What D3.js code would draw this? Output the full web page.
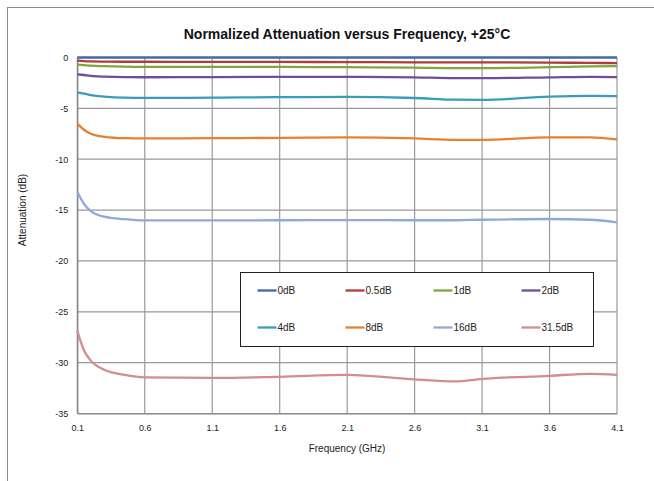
<!DOCTYPE html>
<html lang="en">
<head>
<meta charset="UTF-8">
<title>Normalized Attenuation versus Frequency</title>
<script src="https://cdn.jsdelivr.net/npm/d3@7"></script>
<style>
  body { margin: 0; background: #fff; }
  svg { display: block; font-family: "Liberation Sans", Arial, sans-serif; }
</style>
</head>
<body>
<script>
// data (GHz / dB)
const freq = [0.1, 0.15, 0.2, 0.3, 0.45, 0.6, 1.1, 1.6, 2.1, 2.6, 2.9, 3.1, 3.6, 3.9, 4.1]
const seriesNames = ["0dB", "0.5dB", "1dB", "2dB", "4dB", "8dB", "16dB", "31.5dB"]
const att0 = [0, 0, 0, 0, 0, 0, 0, 0, 0, 0, 0, 0, 0, 0, 0]
const att05 = [-0.3, -0.35, -0.38, -0.4, -0.42, -0.42, -0.43, -0.44, -0.45, -0.47, -0.48, -0.48, -0.5, -0.53, -0.55]
const att1 = [-0.7, -0.75, -0.8, -0.85, -0.9, -0.92, -0.93, -0.93, -0.95, -1.0, -1.05, -1.05, -0.95, -0.88, -0.85]
const att2 = [-1.65, -1.72, -1.8, -1.88, -1.93, -1.94, -1.93, -1.9, -1.9, -1.95, -2.03, -2.03, -1.95, -1.9, -1.92]
const att4 = [-3.45, -3.55, -3.7, -3.85, -3.95, -3.97, -3.95, -3.9, -3.88, -3.98, -4.15, -4.17, -3.85, -3.78, -3.8]
const att8 = [-6.5, -7.1, -7.5, -7.8, -7.93, -7.95, -7.93, -7.9, -7.85, -7.95, -8.1, -8.1, -7.85, -7.85, -8.05]
const att16 = [-13.2, -14.4, -15.1, -15.65, -15.9, -16.02, -16.02, -16.0, -15.98, -16.0, -16.0, -15.95, -15.88, -15.95, -16.2]
const att315 = [-26.9, -28.8, -29.8, -30.7, -31.2, -31.45, -31.5, -31.4, -31.2, -31.65, -31.85, -31.6, -31.3, -31.1, -31.2]
const xTicks = [0.1, 0.6, 1.1, 1.6, 2.1, 2.6, 3.1, 3.6, 4.1]
const yTicks = [0, -5, -10, -15, -20, -25, -30, -35]

const allSeries = [att0, att05, att1, att2, att4, att8, att16, att315]
const colours = ["#3f6aaa", "#b23b3b", "#7ea83e", "#6d4f97", "#3a9cbb", "#e8812f", "#8faad8", "#d58c8c"]

const width = 654
const height = 481
const svg = d3.select("body").append("svg").attr("width", width).attr("height", height)

// outer chart frame (runs off the right / bottom like the source)
svg.append("rect").attr("x", 7.5).attr("y", 7.5).attr("width", 700).attr("height", 500)
    .attr("fill", "none").attr("stroke", "#8c8c8c").attr("stroke-width", 1)

const x = d3.scaleLinear().domain([0.1, 4.1]).range([77.3, 617])
const y = d3.scaleLinear().domain([-35, 0]).range([413.5, 57.5])

// grid
const grid = svg.append("g")
grid.selectAll("line.v").data(xTicks).enter().append("line")
    .attr("x1", d => x(d)).attr("x2", d => x(d)).attr("y1", y(0)).attr("y2", y(-35))
    .attr("stroke", "#9a9a9a").attr("stroke-width", 1.2)
grid.selectAll("line.h").data(yTicks).enter().append("line")
    .attr("x1", x(0.1)).attr("x2", x(4.1)).attr("y1", d => y(d)).attr("y2", d => y(d))
    .attr("stroke", "#9a9a9a").attr("stroke-width", 1.2)

// axes (plain hyphen for negatives, like the source)
const yAxis = d3.axisLeft(y).tickValues(yTicks).tickSize(0).tickPadding(9).tickFormat(d => String(d))
svg.append("g").attr("transform", `translate(${x(0.1)},0)`).call(yAxis)
    .call(g => g.select(".domain").attr("stroke", "#808080").attr("stroke-width", 1.2))
    .call(g => g.selectAll("text").attr("font-size", 9).attr("fill", "#222").attr("font-family", "Liberation Sans, Arial"))

const xAxis = d3.axisBottom(x).tickValues(xTicks).tickSize(0).tickPadding(11).tickFormat(d3.format(".1f"))
svg.append("g").attr("transform", `translate(0,${y(-35)})`).call(xAxis)
    .call(g => g.select(".domain").attr("stroke", "#808080").attr("stroke-width", 1.2))
    .call(g => g.selectAll("text").attr("font-size", 9).attr("fill", "#222").attr("font-family", "Liberation Sans, Arial"))

// lines
const line = d3.line().x((d, i) => x(freq[i])).y(d => y(d)).curve(d3.curveMonotoneX)
svg.append("g").selectAll("path").data(allSeries).enter().append("path")
    .attr("d", line)
    .attr("fill", "none")
    .attr("stroke", (d, i) => colours[i])
    .attr("stroke-width", 2.3)

// titles
svg.append("text").attr("x", 347).attr("y", 38.5).attr("text-anchor", "middle")
    .attr("font-size", 14).attr("font-weight", "bold").attr("fill", "#111")
    .text("Normalized Attenuation versus Frequency, +25°C")
svg.append("text").attr("x", 347).attr("y", 452).attr("text-anchor", "middle")
    .attr("font-size", 10).attr("fill", "#222").text("Frequency (GHz)")
svg.append("text").attr("transform", "translate(26,210) rotate(-90)").attr("text-anchor", "middle")
    .attr("font-size", 10).attr("fill", "#222").text("Attenuation (dB)")

// legend
const legend = svg.append("g").attr("transform", "translate(240.5,272.5)")
legend.append("rect").attr("width", 353).attr("height", 74)
    .attr("fill", "#fff").attr("stroke", "#222").attr("stroke-width", 1)
const item = legend.selectAll("g.item").data(seriesNames).enter().append("g")
    .attr("transform", (d, i) => `translate(${17 + (i % 4) * 88},${i < 4 ? 18 : 55})`)
item.append("line").attr("x1", 0).attr("x2", 19).attr("y1", 0).attr("y2", 0)
    .attr("stroke", (d, i) => colours[i]).attr("stroke-width", 2.3)
item.append("text").attr("x", 20).attr("y", 3.6).attr("font-size", 10).attr("fill", "#222").text(d => d)
</script>
</body>
</html>
